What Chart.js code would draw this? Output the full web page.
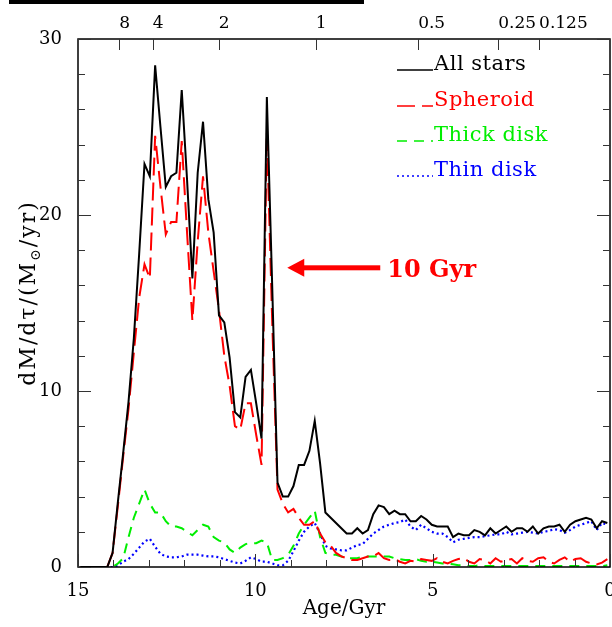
<!DOCTYPE html>
<html>
<head>
<meta charset="utf-8">
<script src="https://cdn.jsdelivr.net/npm/chart.js@4.4.0/dist/chart.umd.min.js"></script>
<style>
  html, body { margin: 0; padding: 0; background: #fff; overflow: hidden; }
  canvas { display: block; }
</style>
</head>
<body>
<canvas id="sfhChart" width="620" height="627"></canvas>
<script>
// bin centres in Gyr (0.15 Gyr bins)
const ages = [
  14.925, 14.775, 14.625, 14.475, 14.325, 14.175, 14.025, 13.875, 13.725, 13.575,
  13.425, 13.275, 13.125, 12.975, 12.825, 12.675, 12.525, 12.375, 12.225, 12.075,
  11.925, 11.775, 11.625, 11.475, 11.325, 11.175, 11.025, 10.875, 10.725, 10.575,
  10.425, 10.275, 10.125, 9.975, 9.825, 9.675, 9.525, 9.375, 9.225, 9.075,
  8.925, 8.775, 8.625, 8.475, 8.325, 8.175, 8.025, 7.875, 7.725, 7.575,
  7.425, 7.275, 7.125, 6.975, 6.825, 6.675, 6.525, 6.375, 6.225, 6.075,
  5.925, 5.775, 5.625, 5.475, 5.325, 5.175, 5.025, 4.875, 4.725, 4.575,
  4.425, 4.275, 4.125, 3.975, 3.825, 3.675, 3.525, 3.375, 3.225, 3.075,
  2.925, 2.775, 2.625, 2.475, 2.325, 2.175, 2.025, 1.875, 1.725, 1.575,
  1.425, 1.275, 1.125, 0.975, 0.825, 0.675, 0.525, 0.375, 0.225, 0.075
];

const allStars = [
  0, 0, 0, 0, 0, 0, 0.8, 3.7, 6.5, 9.4,
  13.0, 17.8, 22.9, 22.2, 28.5, 25.0, 21.6, 22.2, 22.4, 27.1,
  22.0, 16.4, 22.4, 25.3, 20.9, 19.0, 14.3, 13.9, 11.9, 8.8,
  8.5, 10.8, 11.2, 9.3, 7.3, 26.7, 16.0, 4.8, 4.0, 4.0,
  4.6, 5.8, 5.8, 6.6, 8.3, 5.9, 3.1, 2.8, 2.5, 2.2,
  1.9, 1.9, 2.2, 1.9, 2.1, 3.0, 3.5, 3.4, 3.0, 3.2,
  3.0, 3.0, 2.6, 2.6, 2.9, 2.7, 2.4, 2.3, 2.3, 2.3,
  1.7, 1.9, 1.8, 1.8, 2.1, 2.0, 1.8, 2.2, 1.9, 2.1,
  2.3, 2.0, 2.2, 2.2, 2.0, 2.3, 1.9, 2.2, 2.3, 2.3,
  2.4, 2.0, 2.4, 2.6, 2.7, 2.8, 2.7, 2.2, 2.6, 2.5
];

const spheroid = [
  0, 0, 0, 0, 0, 0, 0.8, 3.5, 6.3, 9.0,
  12.2, 15.3, 17.2, 16.4, 24.5, 21.6, 18.9, 19.6, 19.6, 24.2,
  19.0, 14.0, 18.5, 22.2, 19.0, 16.8, 14.6, 12.0, 10.3, 8.0,
  7.8, 9.3, 9.3, 7.5, 5.8, 24.7, 14.0, 4.4, 3.6, 3.1,
  3.3, 2.8, 2.4, 2.4, 2.6, 1.9, 1.4, 1.2, 0.8, 0.6,
  0.5, 0.4, 0.4, 0.5, 0.6, 0.6, 0.8, 0.5, 0.4, 0.45,
  0.3, 0.2, 0.35, 0.3, 0.45, 0.4, 0.35, 0.5, 0.3, 0.2,
  0.35, 0.45, 0.5, 0.3, 0.2, 0.45, 0.4, 0.2, 0.5, 0.3,
  0.4, 0.45, 0.2, 0.5, 0.35, 0.3, 0.5, 0.55, 0.3, 0.2,
  0.4, 0.55, 0.3, 0.45, 0.5, 0.3, 0.2, 0.15, 0.25, 0.45
];

const thickDisk = [
  0, 0, 0, 0, 0, 0, 0, 0.2, 0.5, 1.7,
  2.8, 3.6, 4.4, 3.6, 3.1, 3.1, 2.6, 2.3, 2.3, 2.2,
  2.0, 1.8, 2.1, 2.4, 2.3, 1.7, 1.5, 1.4, 1.0, 0.8,
  1.1, 1.3, 1.35, 1.35, 1.5, 1.4, 0.4, 0.4, 0.5, 0.7,
  1.2, 1.9, 2.4, 2.8, 3.2, 1.7, 0.8, 0.7, 0.7, 0.6,
  0.5, 0.5, 0.5, 0.6, 0.6, 0.6, 0.6, 0.6, 0.6, 0.5,
  0.45, 0.4, 0.4, 0.45, 0.35, 0.3, 0.3, 0.25, 0.2, 0.2,
  0.15, 0.1, 0.1, 0.05, 0.05, 0.1, 0.05, 0.05, 0.05, 0.05,
  0.05, 0.05, 0.05, 0.05, 0.05, 0.05, 0.05, 0.05, 0.05, 0.05,
  0.05, 0.05, 0.05, 0.05, 0.05, 0.05, 0.05, 0.05, 0.05, 0.1
];

const thinDisk = [
  0, 0, 0, 0, 0, 0, 0, 0.1, 0.3, 0.45,
  0.75, 1.1, 1.45, 1.6, 1.15, 0.75, 0.6, 0.55, 0.55, 0.6,
  0.7, 0.7, 0.7, 0.65, 0.6, 0.6, 0.55, 0.45, 0.35, 0.25,
  0.2, 0.35, 0.55, 0.45, 0.3, 0.3, 0.2, 0.1, 0.1, 0.35,
  0.9, 1.5, 2.0, 2.3, 2.5, 1.9, 1.2, 1.05, 1.0, 0.95,
  0.95, 1.1, 1.25, 1.3, 1.6, 1.9, 2.1, 2.3, 2.4, 2.5,
  2.55, 2.7, 2.3, 2.1, 2.4, 2.2, 2.0, 1.9, 1.9, 1.7,
  1.4, 1.55, 1.6, 1.65, 1.7, 1.7, 1.75, 1.8, 1.85, 1.85,
  2.0, 1.85, 1.9, 1.95, 2.0, 1.95, 1.9, 2.0, 2.05, 2.15,
  2.1, 1.95, 2.1, 2.3, 2.4, 2.5, 2.6, 2.1, 2.5, 2.4
];

// redshift marks along the top axis, and the ages where they sit
const redshiftLabels = ["8", "4", "2", "1", "0.5", "0.25", "0.125"];
const redshiftAges = [13.84, 12.89, 11.03, 8.30, 5.41, 3.15, 2.00];

// where the "10 Gyr" arrow points (age, rate)
const arrowTip = [9.1, 17.0];

const serif = "'DejaVu Serif', 'Liberation Serif', serif";

function points(values) {
  return ages.map((a, i) => ({ x: a, y: values[i] }));
}

// keep the plot box fixed: no extra room for half-labels at the ends
function noEndPadding(s) {
  s.paddingLeft = 0;
  s.paddingRight = 0;
}

// frame, inward ticks, legend, arrow and y title
const decorations = {
  id: 'decorations',
  afterDraw(chart) {
    const ctx = chart.ctx;
    const area = chart.chartArea;
    const xs = chart.scales.x;
    const ys = chart.scales.y;
    const top = chart.scales.xTop;
    ctx.save();

    // stray bar at the top of the figure
    ctx.fillStyle = '#000';
    ctx.fillRect(9, 0, 355, 4);

    ctx.strokeStyle = '#000';
    ctx.lineWidth = 1.5;
    ctx.strokeRect(area.left, area.top, area.right - area.left, area.bottom - area.top);

    ctx.lineWidth = 1;
    ctx.strokeStyle = '#333';
    ctx.beginPath();
    for (let a = 0; a <= 15; a++) {
      const px = Math.round(xs.getPixelForValue(a)) + 0.5;
      const len = a % 5 === 0 ? 13 : 7;
      ctx.moveTo(px, area.bottom);
      ctx.lineTo(px, area.bottom - len);
    }
    for (let v = 0; v <= 30; v += 2) {
      const py = Math.round(ys.getPixelForValue(v)) + 0.5;
      const len = v % 10 === 0 ? 13 : 7;
      ctx.moveTo(area.left, py);
      ctx.lineTo(area.left + len, py);
      ctx.moveTo(area.right, py);
      ctx.lineTo(area.right - len, py);
    }
    redshiftAges.forEach(a => {
      const px = Math.round(top.getPixelForValue(a)) + 0.5;
      ctx.moveTo(px, area.top);
      ctx.lineTo(px, area.top + 11);
    });
    ctx.stroke();

    // legend inside the plot, top right
    const baselines = [70, 106, 141, 176];
    ctx.font = '21px ' + serif;
    ctx.letterSpacing = '0.5px';
    ctx.textBaseline = 'alphabetic';
    ctx.textAlign = 'left';
    chart.data.datasets.forEach((ds, i) => {
      ctx.strokeStyle = ds.borderColor;
      ctx.lineWidth = 1.3;
      ctx.setLineDash(ds.borderDash || []);
      ctx.beginPath();
      ctx.moveTo(397, baselines[i]);
      ctx.lineTo(433, baselines[i]);
      ctx.stroke();
      ctx.setLineDash([]);
      ctx.fillStyle = ds.borderColor;
      ctx.fillText(ds.label, 434, baselines[i]);
    });
    ctx.letterSpacing = '0px';

    // arrow pointing at the 10 Gyr spike
    const tx = xs.getPixelForValue(arrowTip[0]);
    const ty = ys.getPixelForValue(arrowTip[1]);
    ctx.fillStyle = '#ff0000';
    ctx.beginPath();
    ctx.moveTo(tx, ty);
    ctx.lineTo(tx + 17, ty - 9);
    ctx.lineTo(tx + 17, ty + 9);
    ctx.closePath();
    ctx.fill();
    ctx.fillRect(tx + 15, ty - 2.5, 78, 5);
    ctx.font = 'bold 24px ' + serif;
    ctx.fillText('10 Gyr', tx + 100, ty + 9);

    // y axis title with a subscript sun symbol
    ctx.fillStyle = '#000';
    ctx.translate(35, 293);
    ctx.rotate(-Math.PI / 2);
    ctx.letterSpacing = '2px';
    const main = '22px ' + serif;
    const sub = '14px ' + serif;
    const parts = [['dM/dτ/(M', main, 0], ['⊙', sub, 5], ['/yr)', main, 0]];
    let total = 0;
    parts.forEach(p => { ctx.font = p[1]; total += ctx.measureText(p[0]).width; });
    let cx = -total / 2;
    parts.forEach(p => {
      ctx.font = p[1];
      ctx.fillText(p[0], cx, p[2]);
      cx += ctx.measureText(p[0]).width;
    });
    ctx.restore();
  }
};

const ctx = document.getElementById('sfhChart').getContext('2d');
new Chart(ctx, {
  type: 'line',
  data: {
    datasets: [
      { label: 'All stars', data: points(allStars), borderColor: '#000000', borderWidth: 2 },
      { label: 'Spheroid', data: points(spheroid), borderColor: '#ff0000', borderWidth: 2, borderDash: [18, 7] },
      { label: 'Thick disk', data: points(thickDisk), borderColor: '#00ee00', borderWidth: 2, borderDash: [10, 7] },
      { label: 'Thin disk', data: points(thinDisk), borderColor: '#0000ff', borderWidth: 2.2, borderDash: [2, 3] }
    ]
  },
  options: {
    responsive: false,
    animation: false,
    layout: { padding: { right: 10 } },
    elements: { point: { radius: 0 }, line: { tension: 0 } },
    plugins: { legend: { display: false }, tooltip: { enabled: false } },
    scales: {
      x: {
        type: 'linear', position: 'bottom', reverse: true, min: 0, max: 15,
        grid: { display: false, drawTicks: false }, border: { display: false },
        ticks: { stepSize: 5, padding: 14, maxRotation: 0, color: '#000', font: { family: serif, size: 18 } },
        title: { display: true, text: 'Age/Gyr', color: '#000', font: { family: serif, size: 20 }, padding: { top: 0, bottom: 6 } },
        afterFit: s => { s.height = 60; noEndPadding(s); }
      },
      xTop: {
        type: 'linear', position: 'top', reverse: true, min: 0, max: 15,
        grid: { display: false, drawTicks: false }, border: { display: false },
        afterBuildTicks: s => { s.ticks = redshiftAges.map(v => ({ value: v })); },
        ticks: {
          align: 'start', autoSkip: false, maxRotation: 0, padding: 5, color: '#000',
          font: { family: serif, size: 17 },
          callback: v => redshiftLabels[redshiftAges.indexOf(v)]
        },
        afterFit: s => { s.height = 39; noEndPadding(s); }
      },
      y: {
        min: 0, max: 30,
        grid: { display: false, drawTicks: false }, border: { display: false },
        ticks: { stepSize: 10, padding: 16, color: '#000', font: { family: serif, size: 18 } },
        afterFit: s => { s.width = 78; }
      }
    }
  },
  plugins: [decorations]
});
</script>
</body>
</html>
